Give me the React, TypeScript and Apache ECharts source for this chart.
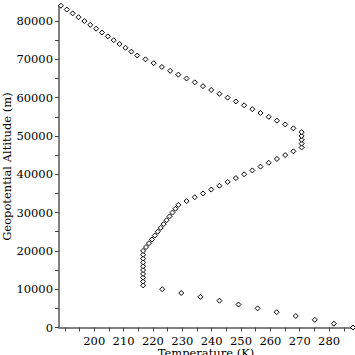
import React, { useEffect, useRef } from "react";
import * as echarts from "echarts";

const altitudes: number[] = [
  0, 1000, 2000, 3000, 4000, 5000, 6000, 7000, 8000, 9000,
  10000, 11000, 12000, 13000, 14000, 15000, 16000, 17000, 18000, 19000,
  20000, 21000, 22000, 23000, 24000, 25000, 26000, 27000, 28000, 29000,
  30000, 31000, 32000, 33000, 34000, 35000, 36000, 37000, 38000, 39000,
  40000, 41000, 42000, 43000, 44000, 45000, 46000, 47000, 48000, 49000,
  50000, 51000, 52000, 53000, 54000, 55000, 56000, 57000, 58000, 59000,
  60000, 61000, 62000, 63000, 64000, 65000, 66000, 67000, 68000, 69000,
  70000, 71000, 72000, 73000, 74000, 75000, 76000, 77000, 78000, 79000,
  80000, 81000, 82000, 83000, 84000,
];

const temperatures: number[] = [
  288.15, 281.65, 275.15, 268.65, 262.15, 255.65, 249.15, 242.65, 236.15, 229.65,
  223.15, 216.65, 216.65, 216.65, 216.65, 216.65, 216.65, 216.65, 216.65, 216.65,
  216.65, 217.65, 218.65, 219.65, 220.65, 221.65, 222.65, 223.65, 224.65, 225.65,
  226.65, 227.65, 228.65, 231.45, 234.25, 237.05, 239.85, 242.65, 245.45, 248.25,
  251.05, 253.85, 256.65, 259.45, 262.25, 265.05, 267.85, 270.65, 270.65, 270.65,
  270.65, 270.65, 267.85, 265.05, 262.25, 259.45, 256.65, 253.85, 251.05, 248.25,
  245.45, 242.65, 239.85, 237.05, 234.25, 231.45, 228.65, 225.85, 223.05, 220.25,
  217.45, 214.65, 212.65, 210.65, 208.65, 206.65, 204.65, 202.65, 200.65, 198.65,
  196.65, 194.65, 192.65, 190.65, 188.65,
];

const xTickValues: number[] = [190, 195, 200, 205, 210, 215, 220, 225, 230, 235, 240, 245, 250, 255, 260, 265, 270, 275, 280, 285];
const xLabelValues: number[] = [200, 210, 220, 230, 240, 250, 260, 270, 280];
const yTickValues: number[] = [0, 5000, 10000, 15000, 20000, 25000, 30000, 35000, 40000, 45000, 50000, 55000, 60000, 65000, 70000, 75000, 80000];
const yLabelValues: number[] = [0, 10000, 20000, 30000, 40000, 50000, 60000, 70000, 80000];

const FONT = "DejaVu Serif";

export default function App() {
  const ref = useRef<HTMLDivElement>(null);
  useEffect(() => {
    if (!ref.current) return;
    const chart = echarts.init(ref.current, null, { renderer: "svg" });
    const data = temperatures.map((t, i) => [t, altitudes[i]]);
    chart.setOption({
      animation: false,
      backgroundColor: "#ffffff",
      grid: {
        left: 59,
        right: 2,
        top: 5.7,
        bottom: 27.5,
        containLabel: false,
        outerBoundsMode: "none",
      },
      xAxis: {
        type: "value",
        min: 188,
        max: 288.15,
        name: "Temperature (K)",
        nameLocation: "middle",
        nameGap: 19.5,
        nameMoveOverlap: false,
        nameTextStyle: { fontFamily: FONT, fontSize: 11.5, lineHeight: 12, color: "#000" },
        axisLine: { show: true, onZero: false, lineStyle: { color: "#808080", width: 2 } },
        axisTick: { show: true, length: 4, customValues: xTickValues, lineStyle: { color: "#444", width: 1 } },
        axisLabel: {
          customValues: xLabelValues,
          formatter: (v: number) => String(v),
          fontFamily: FONT,
          fontSize: 11.5,
          lineHeight: 12,
          color: "#000",
          margin: 7,
        },
        splitLine: { show: false },
        minorTick: { show: false },
      },
      yAxis: {
        type: "value",
        min: 0,
        max: 84000,
        name: "Geopotential Altitude (m)",
        nameLocation: "middle",
        nameGap: 46,
        nameMoveOverlap: false,
        nameTextStyle: { fontFamily: FONT, fontSize: 11.5, color: "#000" },
        axisLine: { show: true, onZero: false, lineStyle: { color: "#808080", width: 2 } },
        axisTick: { show: true, length: 4, customValues: yTickValues, lineStyle: { color: "#444", width: 1 } },
        axisLabel: {
          customValues: yLabelValues,
          formatter: (v: number) => String(v),
          fontFamily: FONT,
          fontSize: 11.5,
          color: "#000",
          margin: 6,
        },
        splitLine: { show: false },
        minorTick: { show: false },
      },
      series: [
        {
          type: "scatter",
          data,
          symbol: "diamond",
          symbolSize: 5,
          itemStyle: { color: "#ffffff", borderColor: "#000000", borderWidth: 1, opacity: 1 },
          clip: false,
        },
      ],
    });
    return () => chart.dispose();
  }, []);
  return (
    <div
      ref={ref}
      style={{ position: "fixed", left: 0, top: 0, width: 355, height: 355, background: "#fff" }}
    />
  );
}
